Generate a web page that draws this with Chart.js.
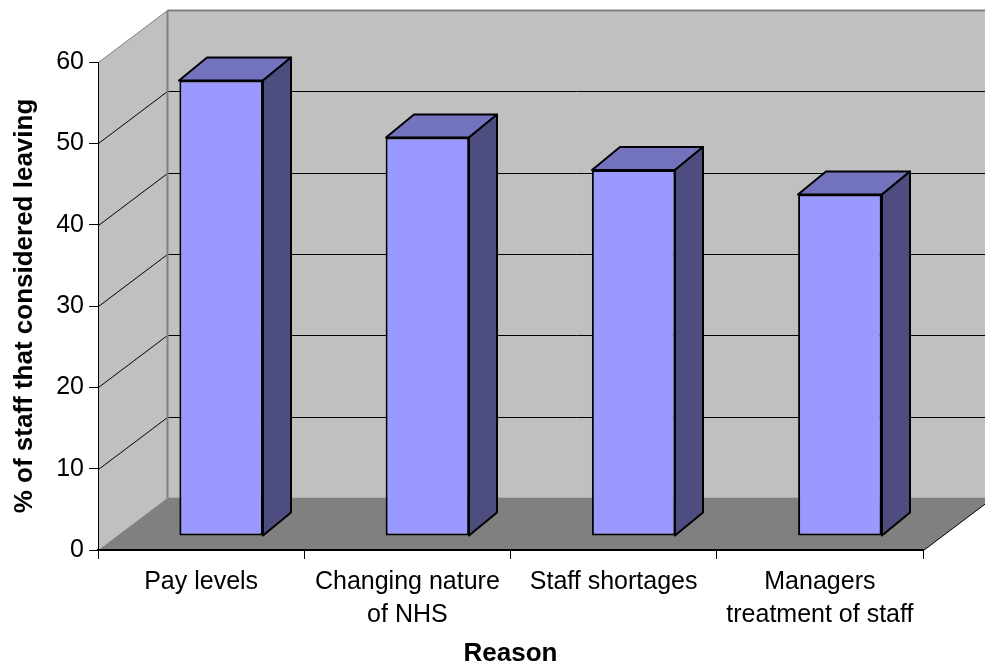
<!DOCTYPE html>
<html>
<head>
<meta charset="utf-8">
<title>Reasons staff considered leaving</title>
<script src="https://cdn.jsdelivr.net/npm/chart.js@4"></script>
<style>
    html, body { margin: 0; padding: 0; background: #fff; }
    canvas { display: block; }
</style>
</head>
<body>
<canvas id="leavingChart" width="985" height="667"></canvas>
<script>
// Chart data
const reasons = ['Pay levels', ['Changing nature', 'of NHS'], 'Staff shortages', ['Managers', 'treatment of staff']];
const staffPercent = [56, 49, 45, 42];
const yTicks = [0, 10, 20, 30, 40, 50, 60];

const FONT = '"Liberation Sans", Arial, sans-serif';

// How far the back wall sits from the front plane
const WALL_DX = 69;
const WALL_DY = 52;
// Where the bars stand on the floor, and how deep they are
const BAR_DX = 20;
const BAR_DY = 14;
const DEPTH_DX = 28;
const DEPTH_DY = 23;

function fillPoly(ctx, pts, fill, stroke, lineWidth) {
    ctx.beginPath();
    pts.forEach(function(p, i) {
        if (i === 0) ctx.moveTo(p[0], p[1]);
        else ctx.lineTo(p[0], p[1]);
    });
    ctx.closePath();
    ctx.fillStyle = fill;
    ctx.fill();
    if (stroke) {
        ctx.strokeStyle = stroke;
        ctx.lineWidth = lineWidth;
        ctx.lineJoin = 'round';
        ctx.stroke();
    }
}

function line(ctx, x1, y1, x2, y2, color, width) {
    ctx.beginPath();
    ctx.moveTo(x1, y1);
    ctx.lineTo(x2, y2);
    ctx.strokeStyle = color;
    ctx.lineWidth = width;
    ctx.stroke();
}

// Walls, floor and gridlines behind the bars
const roomPlugin = {
    id: 'room',
    beforeDraw: function(chart) {
        const ctx = chart.ctx;
        const yScale = chart.scales.y;
        const xScale = chart.scales.x;
        const left = Math.round(xScale.left) + 0.5;
        const right = Math.round(xScale.right) + 0.5;
        const top = Math.round(yScale.getPixelForValue(60)) + 0.5;
        const bottom = Math.round(yScale.getPixelForValue(0)) + 0.5;
        const backLeft = left + WALL_DX;
        const backRight = right + WALL_DX;
        const backTop = top - WALL_DY;
        const backBottom = bottom - WALL_DY;

        ctx.save();
        fillPoly(ctx, [[left, top], [backLeft, backTop], [backRight, backTop], [backRight, backBottom], [backLeft, backBottom], [left, bottom]], '#c0c0c0');
        fillPoly(ctx, [[left, bottom], [backLeft, backBottom], [backRight, backBottom], [right, bottom]], '#808080');

        yTicks.forEach(function(v) {
            if (v === 0 || v === 60) return;
            const y = Math.round(yScale.getPixelForValue(v)) + 0.5;
            line(ctx, left, y, backLeft, y - WALL_DY, '#000', 1);
            line(ctx, backLeft, y - WALL_DY, backRight, y - WALL_DY, '#000', 1);
        });

        // wall edges
        line(ctx, left, top, backLeft, backTop, '#808080', 1);
        line(ctx, backLeft, backTop, backRight, backTop, '#808080', 2);
        line(ctx, backLeft, backTop, backLeft, backBottom, '#808080', 2);
        line(ctx, backLeft, backBottom, backRight, backBottom, '#808080', 1.5);
        line(ctx, left, bottom, backLeft, backBottom, '#808080', 1);
        line(ctx, right, bottom, backRight, backBottom, '#000', 1);
        ctx.restore();
    }
};

// Pushes the bars back onto the floor and adds their top and side faces
const barDepthPlugin = {
    id: 'barDepth',
    beforeDatasetsDraw: function(chart) {
        const ctx = chart.ctx;
        ctx.save();
        ctx.translate(BAR_DX, -BAR_DY);
        chart.getDatasetMeta(0).data.forEach(function(bar) {
            const l = Math.round(bar.x - bar.width / 2);
            const r = Math.round(bar.x + bar.width / 2);
            const t = bar.y;
            const b = bar.base;
            fillPoly(ctx, [[l, t], [l + DEPTH_DX, t - DEPTH_DY], [r + DEPTH_DX, t - DEPTH_DY], [r, t]], '#7373bd', '#000', 2);
            fillPoly(ctx, [[r, t], [r + DEPTH_DX, t - DEPTH_DY], [r + DEPTH_DX, b - DEPTH_DY], [r, b]], '#4d4d80', '#000', 2);
        });
    },
    afterDatasetsDraw: function(chart) {
        chart.ctx.restore();
    }
};

const ctx = document.getElementById('leavingChart').getContext('2d');
new Chart(ctx, {
    type: 'bar',
    data: {
        labels: reasons,
        datasets: [{
            data: staffPercent,
            backgroundColor: '#9999ff',
            borderColor: '#000',
            borderWidth: 2,
            borderSkipped: false,
            barPercentage: 0.405,
            categoryPercentage: 1,
            clip: false
        }]
    },
    options: {
        responsive: false,
        animation: false,
        layout: { padding: { top: 62, right: 62, left: 0, bottom: 0 } },
        plugins: { legend: { display: false }, tooltip: { enabled: false } },
        scales: {
            x: {
                afterFit: function(scale) { scale.height = 117; },
                grid: { drawOnChartArea: false, color: '#000', tickLength: 9, tickColor: '#000' },
                border: { color: '#000', width: 2 },
                ticks: {
                    color: '#000',
                    autoSkip: false,
                    maxRotation: 0,
                    padding: 7,
                    font: { family: FONT, size: 25, lineHeight: 1.3 }
                },
                title: {
                    display: true,
                    text: 'Reason',
                    color: '#000',
                    padding: { top: 0, bottom: 0 },
                    font: { family: FONT, size: 26, weight: 'bold', lineHeight: 1 }
                }
            },
            y: {
                min: 0,
                max: 60,
                afterFit: function(scale) { scale.width = 98; },
                afterBuildTicks: function(scale) {
                    scale.ticks = yTicks.map(function(v) { return { value: v }; });
                },
                grid: { drawOnChartArea: false, color: '#000', tickLength: 9, tickColor: '#000' },
                border: { color: '#000', width: 1 },
                ticks: {
                    color: '#000',
                    padding: 5,
                    font: { family: FONT, size: 25 }
                },
                title: {
                    display: true,
                    text: '% of staff that considered leaving',
                    color: '#000',
                    padding: { top: 9, bottom: 0 },
                    font: { family: FONT, size: 26, weight: 'bold' }
                }
            }
        }
    },
    plugins: [roomPlugin, barDepthPlugin]
});
</script>
</body>
</html>
